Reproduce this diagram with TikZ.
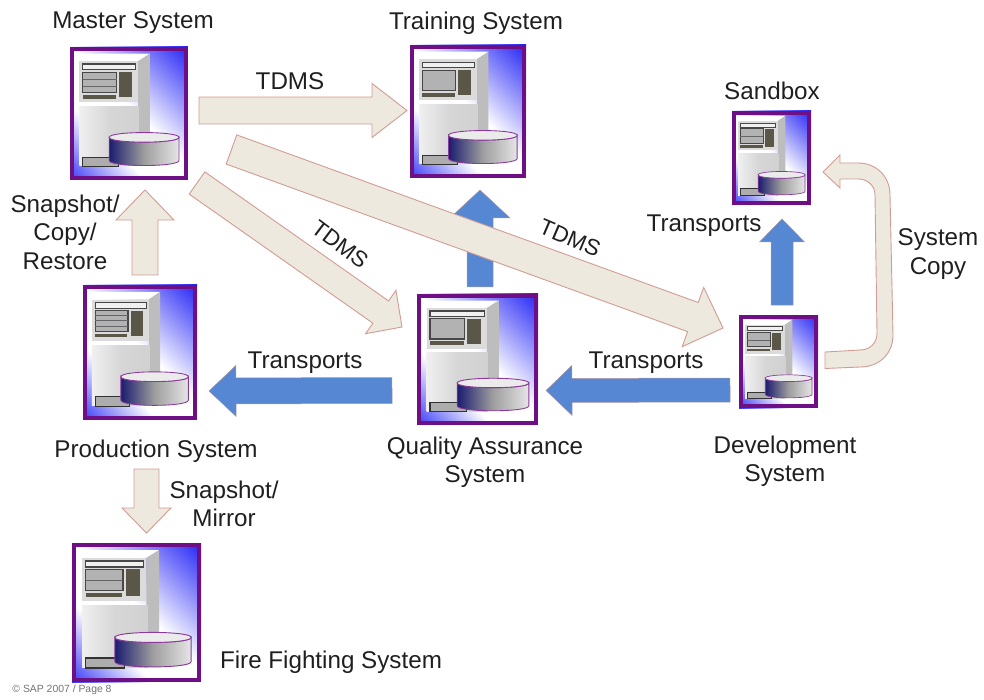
\documentclass[tikz,border=0pt]{standalone}
\usepackage{fontspec}
\setmainfont{Liberation Sans}
\usetikzlibrary{calc}
\definecolor{framepurple}{HTML}{6E0F85}
\definecolor{cylpurple}{HTML}{8A3A9A}
\definecolor{gradblue}{HTML}{2020F5}
\definecolor{beigefill}{HTML}{EDE9DF}
\definecolor{beigeline}{HTML}{D29C92}
\definecolor{arrowblue}{HTML}{5587D2}
\definecolor{darkpanel}{HTML}{5A5648}
\definecolor{cylnavy}{HTML}{1C1C70}
\pgfdeclareverticalshading{diagblue}{100bp}{color(0bp)=(gradblue); color(12bp)=(gradblue); color(36bp)=(white); color(52bp)=(white); color(86bp)=(gradblue); color(100bp)=(gradblue)}
\tikzset{
  beigearrow/.style={fill=beigefill,draw=beigeline,line width=.9pt,line join=miter},
  bluearrow/.style={fill=arrowblue,draw=beigeline!70!arrowblue,line width=.5pt},
  lab/.style={font=\fontsize{24.2}{28.5}\selectfont,text=black!88,align=center,inner sep=0pt},
  tiltlab/.style={lab,font=\fontsize{22.5}{27}\selectfont},
  framebox/.style={draw=framepurple,line width=4.4pt,inner sep=0pt}
}
% name, x0, y0, x1, y1 (outer edge of the frame), stripes of the panel
\newcommand\serverbox[6]{%
  \pgfmathsetmacro\bw{#4-#2}\pgfmathsetmacro\bh{#5-#3}%
  \pgfmathsetmacro\sx{\bw/355}\pgfmathsetmacro\sy{\bh/396}%
  \pgfmathsetmacro\lw{0.35+\bw/130}%
  \pgfmathsetmacro\ox{#2-30*\sx}\pgfmathsetmacro\oy{#3-22*\sy}%
  \begin{scope}[shift={(\ox,\oy)},x=\sx pt,y=-\sy pt]
    \shade[shading=diagblue,shading angle=-45] (30,22) rectangle (385,418);
    \fill[white] (58,65) -- (58,42) -- (270,42) -- (235,65) -- cycle;
    \fill[black!26] (235,64) -- (270,42) -- (270,300) -- (235,322) -- cycle;
    \fill[black!14] (58,65) rectangle (235,187);
    \shade[left color=black!6,right color=black!18,middle color=black!16] (58,200) rectangle (238,376);
    \draw[black!72,fill=black!6,line width=\lw pt] (68,73) rectangle (227,90);
    \draw[black!72,fill=black!30,line width=\lw pt] (68,97) rectangle (170,158);
    \draw[black!60,line width=.5*\lw pt] #6;
    \fill[darkpanel] (178,97) rectangle (218,172);
    \fill[darkpanel] (68,165) rectangle (168,176);
    \draw[black!80,fill=black!32,line width=\lw pt] (68,350) rectangle (175,378);
    \shade[draw=cylpurple,line width=.7*\lw pt,left color=cylnavy,right color=black!10,middle color=black!38]
      (148,291) -- (148,360) .. controls (148,380) and (358,380) .. (358,360) -- (358,291) .. controls (358,310) and (148,310) .. (148,291) -- cycle;
    \draw[cylpurple,fill=black!8,line width=.7*\lw pt]
      (148,291) .. controls (148,272) and (358,272) .. (358,291) .. controls (358,310) and (148,310) .. (148,291) -- cycle;
  \end{scope}
  \node[framebox,minimum width=\bw pt-4.4pt,minimum height=\bh pt-4.4pt] (#1) at ({(#2+#4)/2},{(#3+#5)/2}) {};
}
% style, tail, tip, half shaft, half head, head length
\newcommand\blockarrow[6]{%
  \coordinate (ba) at #2;\coordinate (bb) at #3;
  \coordinate (bn) at ($(bb)!#6pt!(ba)$);
  \draw[#1] ($(ba)!#4pt!90:(bb)$) -- ($(bn)!#4pt!-90:(ba)$) -- ($(bn)!#5pt!-90:(ba)$) -- (bb)
    -- ($(bn)!#5pt!90:(ba)$) -- ($(bn)!#4pt!90:(ba)$) -- ($(ba)!#4pt!-90:(bb)$) -- cycle;
}
\begin{document}
\begin{tikzpicture}[x=1pt,y=-1pt]
\useasboundingbox (0,0) rectangle (984,700);
\serverbox{master}{70}{47}{188}{180}{(68,118) -- (170,118) (68,138) -- (170,138)}
\serverbox{training}{410}{45}{526}{178}{}
\serverbox{sandbox}{732}{111}{811}{205}{(68,128) -- (170,128)}
\serverbox{dev}{739}{315}{818}{408}{(68,128) -- (170,128)}
\serverbox{prod}{83}{285}{197}{420}{(68,112) -- (170,112) (68,127) -- (170,127) (68,142) -- (170,142)}
\serverbox{qa}{417}{294}{538}{425}{}
\serverbox{fire}{72}{543}{201}{682}{(68,128) -- (170,128)}

\blockarrow{bluearrow}{($(qa.north)+(2.5,-7)$)}{($(training.south)+(12,12)$)}{13}{30}{28}
\blockarrow{bluearrow}{($(dev.north)+(3.5,-10)$)}{($(sandbox.south)+(10.5,14)$)}{11}{22.5}{23}
\blockarrow{bluearrow}{($(dev.west)+(-9,28.5)$)}{($(qa.east)+(8,31)$)}{12}{25}{26}
\blockarrow{bluearrow}{($(qa.west)+(-25,31)$)}{($(prod.east)+(12,38.5)$)}{13}{25.5}{27}
\blockarrow{beigearrow}{($(master.east)+(11,-3)$)}{($(training.west)+(-3,-1)$)}{13.5}{27}{35}
\blockarrow{beigearrow}{($(master.south east)+(43.5,-30.5)$)}{($(dev.west)+(-16,-33.5)$)}{15.5}{31.5}{32}
\blockarrow{beigearrow}{($(master.south east)+(9,3)$)}{($(qa.west)+(-15,-32.5)$)}{13.6}{26.5}{26}
\blockarrow{beigearrow}{($(prod.north)+(5,-10)$)}{($(master.south)+(16,10)$)}{13}{29}{30}
\blockarrow{beigearrow}{($(prod.south)+(6.5,49)$)}{($(fire.north)+(10,-10)$)}{12.5}{24.5}{25}
\draw[beigearrow] ($(dev.east)+(7,-9.5)$) -- (860,350) .. controls (870,350) and (877,343) .. (877,333)
  -- (875,195) .. controls (875,186) and (868,179) .. (858,179) -- (840,179) -- (840,188)
  -- ($(sandbox.east)+(12,14)$) -- (840,155) -- (840,163) -- (858,163)
  .. controls (877,163) and (890,177) .. (890,195) -- (893,335) .. controls (893,353) and (880,367) .. (860,367)
  -- ($(dev.east)+(7,7)$) -- cycle;

\node[lab] (tmaster) at (133,23) {Master System};
\node[lab] (ttraining) at (476,23) {Training System};
\node[lab] (tsandbox) at (772,91) {Sandbox};
\node[lab] (tsnap) at (65,232) {Snapshot/\\Copy/\\Restore};
\node[lab] (ttdmsa) at (290,81) {TDMS};
\node[tiltlab,rotate=-37] (ttdmsb) at (340,244) {TDMS};
\node[tiltlab,rotate=-23] (ttdmsc) at (570,238) {TDMS};
\node[lab] (ttransa) at (704,226) {Transports};
\node[lab] (tcopy) at (938,254) {System\\Copy};
\node[lab] (ttransb) at (305,363) {Transports};
\node[lab] (ttransc) at (646,363) {Transports};
\node[lab] (tprod) at (156,451) {Production System};
\node[lab] (tqa) at (485,462) {Quality Assurance\\System};
\node[lab] (tdev) at (785,461) {Development\\System};
\node[lab] (tmirror) at (224,504) {Snapshot/\\Mirror};
\node[lab] (tfire) at (331,662) {Fire Fighting System};
\node[font=\fontsize{10.4}{12}\selectfont,text=black!55,inner sep=0pt] (tcopyr) at (62,690) {© SAP 2007 / Page 8};
\end{tikzpicture}
\end{document}
